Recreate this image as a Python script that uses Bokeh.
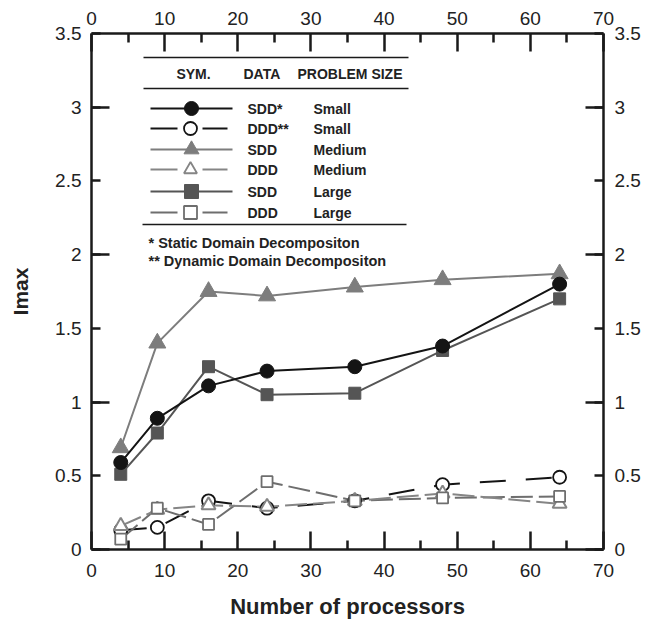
from bokeh.plotting import figure
from bokeh.models import LinearAxis, FixedTicker, Range1d, Title, CustomJSTickFormatter, ColumnDataSource
from bokeh.core.properties import value
from bokeh.embed import file_html
from bokeh.resources import INLINE

FONT = "Liberation Sans"

# ---- data ----
procs = [4, 9, 16, 24, 36, 48, 64]
sdd_small = [0.59, 0.89, 1.11, 1.21, 1.24, 1.38, 1.80]
ddd_small = [0.13, 0.15, 0.33, 0.28, 0.33, 0.44, 0.49]
sdd_medium = [0.69, 1.40, 1.75, 1.72, 1.78, 1.83, 1.87]
ddd_medium = [0.16, 0.27, 0.30, 0.29, 0.33, 0.38, 0.31]
sdd_large = [0.51, 0.79, 1.24, 1.05, 1.06, 1.35, 1.70]
ddd_large = [0.07, 0.28, 0.17, 0.46, 0.33, 0.35, 0.36]

x_ticks = [0, 10, 20, 30, 40, 50, 60, 70]
x_minor = [5, 15, 25, 35, 45, 55, 65]
y_ticks = [0, 0.5, 1, 1.5, 2, 2.5, 3, 3.5]
y_long = [0, 1, 2, 3]

leg_data = ["SDD*", "DDD**", "SDD", "DDD", "SDD", "DDD"]
leg_size = ["Small", "Small", "Medium", "Medium", "Large", "Large"]
header = ["SYM.", "DATA", "PROBLEM SIZE"]
notes = ["* Static Domain Decompositon", "** Dynamic Domain Decompositon"]

# ---- figure ----
L, R, T, B = 91, 43, 33, 73
W, H = 646, 622
p = figure(width=W, height=H, x_range=Range1d(0, 70), y_range=Range1d(0, 3.5),
           output_backend="svg", toolbar_location=None,
           min_border_left=L, min_border_right=R, min_border_top=T, min_border_bottom=B)
p.grid.visible = False
p.outline_line_color = None
p.background_fill_color = "white"
p.border_fill_color = "white"

fw, fh = W - L - R, H - T - B
def dx(px):
    return (px - L) * 70.0 / fw
def dy(py):
    return (H - B - py) * 3.5 / fh

AX_COL = "#1a1a1a"
def style_axis(ax, ticks, minor, maj_len, min_len, standoff):
    ax.ticker = FixedTicker(ticks=ticks, minor_ticks=minor)
    ax.formatter = CustomJSTickFormatter(code="return tick.toString();")
    ax.axis_line_width = 2.5
    ax.axis_line_color = AX_COL
    ax.major_tick_line_width = 2.5
    ax.minor_tick_line_width = 2.5
    ax.major_tick_line_color = AX_COL
    ax.minor_tick_line_color = AX_COL
    ax.major_tick_in = maj_len
    ax.major_tick_out = 0
    ax.minor_tick_in = min_len
    ax.minor_tick_out = 0
    ax.major_label_text_font = FONT
    ax.major_label_text_font_size = "19px"
    ax.major_label_text_color = "#222222"
    ax.major_label_standoff = standoff

xb = p.xaxis[0]
yl = p.yaxis[0]
xt = LinearAxis()
yr = LinearAxis()
p.add_layout(xt, "above")
p.add_layout(yr, "right")
style_axis(xb, x_ticks, x_minor, 18, 9, 14)
style_axis(xt, x_ticks, x_minor, 18, 9, 9)
style_axis(yl, y_ticks, y_long, 9, 18, 10)
style_axis(yr, y_ticks, y_long, 9, 18, 11)

yl.axis_label = "Imax"
yl.axis_label_text_font = FONT
yl.axis_label_text_font_size = "21px"
yl.axis_label_text_font_style = "bold"
yl.axis_label_text_color = "#222222"
yl.axis_label_standoff = 20

p.add_layout(Title(text=" ", text_font_size="6px", standoff=0), "below")
p.add_layout(Title(text="Number of processors", align="center", offset=24,
                   text_font=FONT, text_font_size="22px", text_font_style="bold",
                   text_color="#222222", standoff=8), "below")

# ---- series ----
C_SMALL = "#141414"
C_MED = "#7d7d7d"
C_LARGE = "#555555"
C_DMED = "#858585"
C_DLARGE = "#6e6e6e"

p.line(procs, ddd_small, line_color=C_SMALL, line_width=2, line_dash="26 20")
p.line(procs, ddd_large, line_color=C_DLARGE, line_width=2, line_dash="22 6")
p.line(procs, ddd_medium, line_color=C_DMED, line_width=2, line_dash="22 6")
p.scatter(procs, ddd_small, marker="circle", size=13, fill_color="white", line_color=C_SMALL, line_width=1.8)
p.scatter(procs, ddd_medium, marker="triangle", size=14, fill_color="white", line_color=C_DMED, line_width=2)
p.scatter(procs, ddd_large, marker="square", size=11, fill_color="white", line_color=C_DLARGE, line_width=1.8)

p.line(procs, sdd_large, line_color=C_LARGE, line_width=2)
p.scatter(procs, sdd_large, marker="square", size=12, fill_color=C_LARGE, line_color=C_LARGE)
p.line(procs, sdd_medium, line_color=C_MED, line_width=2)
p.scatter(procs, sdd_medium, marker="triangle", size=17, fill_color=C_MED, line_color=C_MED)
p.line(procs, sdd_small, line_color=C_SMALL, line_width=2)
p.scatter(procs, sdd_small, marker="circle", size=14, fill_color=C_SMALL, line_color=C_SMALL)

# ---- legend table (decoration) ----
RULE = "#1a1a1a"
p.line([dx(143), dx(408)], [dy(57)] * 2, line_color=RULE, line_width=1.6)
p.line([dx(143), dx(408)], [dy(88)] * 2, line_color=RULE, line_width=1.6)
p.line([dx(142), dx(406)], [dy(224)] * 2, line_color=RULE, line_width=1.6)

tf = value(FONT)
p.text(x=[dx(193)], y=[dy(73)], text=[header[0]], text_font=tf, text_font_size="14px",
       text_font_style="bold", text_align="center", text_baseline="middle", text_color="#222222")
p.text(x=[dx(243), dx(297)], y=[dy(73)] * 2, text=header[1:], text_font=tf, text_font_size="14px",
       text_font_style="bold", text_align="left", text_baseline="middle", text_color="#222222")

row_y = [108, 128, 149, 169, 191, 212]
styles = [
    (C_SMALL, "circle", 14, C_SMALL, False),
    (C_SMALL, "circle", 13, "white", True),
    (C_MED, "triangle", 15, C_MED, False),
    (C_DMED, "triangle", 13, "white", True),
    (C_LARGE, "square", 14, C_LARGE, False),
    (C_DLARGE, "square", 13, "white", True),
]
for ry, (col, mk, sz, fill, dashed) in zip(row_y, styles):
    yy = dy(ry)
    if dashed:
        p.line([dx(150), dx(177)], [yy, yy], line_color=col, line_width=2)
        p.line([dx(202), dx(227)], [yy, yy], line_color=col, line_width=2)
        p.scatter([dx(190)], [yy], marker=mk, size=sz, fill_color=fill, line_color=col, line_width=1.8)
    else:
        p.line([dx(150), dx(232)], [yy, yy], line_color=col, line_width=2)
        p.scatter([dx(191)], [yy], marker=mk, size=sz, fill_color=fill, line_color=col)

src = ColumnDataSource(dict(x1=[dx(247)] * 6, x2=[dx(313)] * 6, y=[dy(v) for v in row_y],
                            d=leg_data, s=leg_size))
p.text(x="x1", y="y", text="d", source=src, text_font=tf, text_font_size="14px",
       text_font_style="bold", text_align="left", text_baseline="middle", text_color="#222222")
p.text(x="x2", y="y", text="s", source=src, text_font=tf, text_font_size="14px",
       text_font_style="bold", text_align="left", text_baseline="middle", text_color="#222222")

p.text(x=[dx(148)] * 2, y=[dy(242), dy(260)], text=notes, text_font=tf, text_font_size="14.5px",
       text_font_style="bold", text_align="left", text_baseline="middle", text_color="#222222")

open("out.html", "w").write(file_html(p, INLINE))
